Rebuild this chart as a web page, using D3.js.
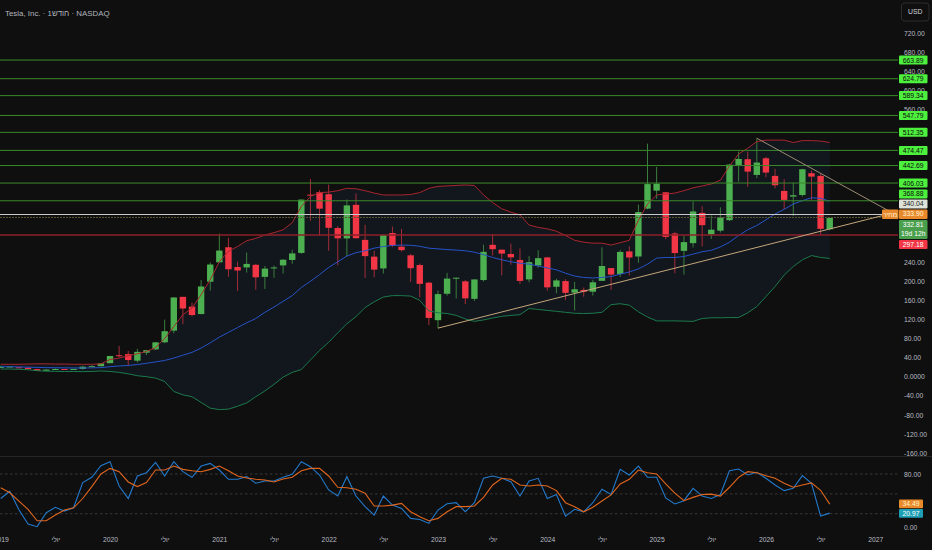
<!DOCTYPE html>
<html>
<head>
<meta charset="utf-8">
<script src="https://cdn.jsdelivr.net/npm/d3@7"></script>
<style>
	html, body { margin: 0; padding: 0; background: #0f0f0f; }
	svg { display: block; font-family: "Liberation Sans", Arial, sans-serif; }
</style>
</head>
<body>
<svg id="chart" width="932" height="550"></svg>
<script>

// monthly candles, Jan 2019 .. Aug 2026
var opens = [20.4,20.4,19.7,18.8,15.9,12.4,15.0,16.1,14.9,16.2,20.9,22.0,
	28.3,44.9,47.4,33.6,50.3,57.3,72.2,96.6,167.4,146.9,131.3,199.2,
	239.8,271.4,230.0,229.1,234.6,209.3,227.0,233.3,244.7,259.5,381.7,386.9,
	382.6,311.7,289.9,360.4,286.9,251.7,227.0,301.3,272.6,254.5,234.1,197.1,
	118.5,173.9,206.2,199.9,163.2,202.6,276.5,266.3,257.3,244.8,204.0,233.1,
	250.1,188.5,200.5,176.2,182.0,178.1,201.0,227.7,215.3,262.7,252.0,352.4,
	390.1,386.7,300.3,263.8,280.0,343.5,298.5,306.2,328.2,444.0,456.0,423.0,
	458.0,421.0,389.5,377.6,381.0,426.6,421.0,309.0];
var highs = [23.2,21.5,20.5,19.8,16.6,15.5,17.5,16.4,16.6,22.7,24.1,28.8,
	43.6,64.6,54.1,58.6,55.1,72.7,119.7,166.7,167.5,155.3,202.6,239.6,
	300.1,291.3,241.2,260.3,236.3,232.1,233.0,246.8,266.3,371.7,414.5,390.9,
	402.7,315.9,371.6,384.3,318.5,264.2,298.3,314.7,310.0,257.5,237.4,198.9,
	180.7,217.7,207.8,202.7,204.5,277.0,299.3,266.5,279.0,268.9,252.8,265.1,
	251.3,205.6,204.5,198.9,187.0,203.2,271.0,228.0,265.9,273.5,361.0,488.5,
	439.7,386.7,303.9,294.9,367.7,357.5,338.0,355.0,446.0,472.0,472.0,500.0,
	461.0,436.0,414.0,407.0,436.0,432.0,425.0,334.0];
var lows = [18.1,19.5,17.9,15.8,12.2,11.8,14.6,14.8,14.6,15.1,20.5,21.5,
	28.1,40.8,23.4,29.8,45.5,56.0,70.1,90.9,110.0,126.4,131.0,180.4,
	239.1,209.5,179.8,218.2,182.3,183.9,207.3,216.3,236.8,257.7,326.8,295.4,
	264.0,233.3,252.0,290.0,206.9,208.7,216.2,271.8,262.5,198.6,166.2,108.2,
	101.8,169.9,163.9,152.4,158.8,199.4,254.1,212.4,234.6,194.1,197.9,228.2,
	180.1,175.0,160.5,138.8,167.4,170.0,200.6,182.0,209.1,212.1,238.9,351.0,
	373.0,288.4,217.0,214.3,271.0,273.2,288.8,302.2,326.0,409.0,398.0,416.0,
	418.0,395.0,351.0,337.0,378.0,370.0,297.18,307.0];
var closes = [20.5,21.3,18.7,15.9,12.3,14.9,16.1,15.0,16.1,21.0,22.0,27.9,
	43.4,44.5,34.9,52.1,55.7,72.0,95.4,166.1,143.0,129.3,189.2,235.2,
	264.5,225.2,222.6,236.5,208.4,226.6,229.1,245.2,258.5,371.3,381.6,352.3,
	312.2,290.1,359.2,290.3,252.8,224.5,297.1,275.6,265.3,227.5,194.7,123.2,
	173.2,205.7,207.5,164.3,203.9,261.8,267.4,258.1,250.2,200.8,240.1,248.5,
	187.3,201.9,175.8,183.3,178.1,197.9,232.1,214.1,261.6,249.9,345.2,403.8,
	404.6,293.0,259.2,282.2,346.5,317.7,308.3,333.9,444.7,456.6,430.0,449.0,
	428.0,401.4,370.7,380.5,435.0,419.5,310.0,332.81];

// bollinger bands
var bandUpper = [26,26,26,26.5,27,27,26.5,26.5,26,26,26,27,
	36,39,44,48,53,61,80,105,130,144,172,203,
	241,263,273,285,290,297,302,308,323,357,378,386,
	387,390,395,394,390,385,381,381,381,382,386,395,
	399,400,401,402,401,381,365,352,345,339,318,313,
	310,305,296,286,282,280,280,276,281,286,328,362,
	381,383,385,390,396,400,404,412,442,467,479,493,
	496,496,496,491,495,495,494,491];
var bandBasis = [21,21,20.5,20,19.5,19,18.8,18.5,18.3,18.3,18.5,19,
	21,22.5,23.5,25.5,28,31,34,39,45,51,60,71,
	83,93,103,113,122,135,146,158,170,187,200,214,
	229,241,253,260,264,269.5,273,275,276,275.5,273.5,269.5,
	268,266.5,265.5,264,261,256,250,245,241,238,236,232,
	228,224,217,211,208,207,208,210,215,219.5,226,236,
	248.6,250,250,252,257,262,265,272,282,296,308,317,
	329,341,351,362,369,375,374,368];
var bandLower = [16,16,15.5,14.5,12.5,11.5,11.2,10.8,10.8,10.6,11,12,
	11,9,6,2,0,-3,-10,-31,-38,-42,-54,-66,
	-69,-68,-62,-55,-42,-30,-16,-1,9,15,35,55,
	72,92,111,126,145,157,167,170,170,169,160,138,
	134,132.5,128.5,121,116,119,123,126.5,128.5,130,143,141,
	139,137,135,133,132.5,133,135,151,153,150,136,125,
	117,117,117,116.5,116,122,123.5,123.5,124,124,134,147,
	168,189,213,231,245,254,250,248];

// oscillator pane (%K blue, %D orange)
var stochK = [43,54,26,4.5,0.5,21.6,29.7,24,29,67,75,92.6,
	98.6,61.9,43,77,82,97.6,77,98.6,83.5,75,92,96,
	86,72,72,76,66,69.5,69.5,75,79.5,98.6,91,78.5,
	55.9,46.7,76,46.7,30.7,18,46.7,33,28,13,11.4,5.4,
	25.6,35,36.7,23,36.7,73.5,77,73.5,68.5,46.7,69.5,73.5,
	43,49,16.5,26.7,23,36.7,56.9,49,87,78.5,92,75,
	75,44,34.7,39.7,58.4,46.7,43,49,85,87.5,78.5,82.5,
	73.5,63.5,54.9,58.4,77.5,66,16.5,20.97];
var stochD = [59.3,51.7,39,26.6,9.4,9.4,18,25.6,29,43,61,80,
	88.5,83.5,68,61,67,86,86,92,87,85,83.5,87,
	92,85,77,74,72,71,68,72.5,75,85,88.5,88.5,
	77,60,59.3,57,51,31.7,31.7,33,35.7,23,15.5,9.4,
	13,23,30.7,30.7,31.7,44.7,63.5,73.5,72,63.5,62,63.5,
	62,54.9,36.7,30.7,23,29.7,39.3,48.4,65,72,86,82,
	80,65,51,39.7,44.7,49,49.6,46.7,60,75,83.5,82,
	77.5,73.5,66,60,63.5,66.5,55.4,34.49];

// drawings
var levels = [663.89, 624.79, 589.34, 547.79, 512.35, 474.47, 442.69, 406.03, 368.88];
var pivotLevel = 340.04;
var closeMark = 333.90;
var lastPrice = 332.81;
var stopLevel = 297.18;
var riseLine = [[48, 101.8], [98.6, 346.5]];
var fallLine = [[83, 500], [98.6, 336]];

var priceTicks = d3.range(-160, 721, 40);
var oscTicks = [0, 40, 80];
var oscGuides = [20, 50, 80];
var timeTicks = d3.range(0, 97, 6);
var firstYear = 2019;
var midLabel = "יולי";

var W = 932, plotRight = 898;
var svg = d3.select("#chart");

svg.append("rect").attr("width", W).attr("height", 550).attr("fill", "#0f0f0f");

var x = d3.scaleLinear().domain([0, 96]).range([0.7, 0.7 + 96 * 9.11]);
var y = d3.scaleLinear().domain([-160, 720]).range([453, 33.3]);
var yo = d3.scaleLinear().domain([0, 80]).range([527, 474]);

var defs = svg.append("defs");
defs.append("clipPath").attr("id", "clipMain")
	.append("rect").attr("x", 0).attr("y", 0).attr("width", plotRight).attr("height", 456);
defs.append("clipPath").attr("id", "clipOsc")
	.append("rect").attr("x", 0).attr("y", 458).attr("width", plotRight).attr("height", 72);

var main = svg.append("g").attr("clip-path", "url(#clipMain)");

// band fill
main.append("path")
	.datum(bandUpper)
	.attr("fill", "rgba(70,120,200,0.08)")
	.attr("d", d3.area()
		.x(function(d, i) { return x(i); })
		.y0(function(d, i) { return y(bandLower[i]); })
		.y1(function(d) { return y(d); }));

// candles
var candles = opens.map(function(o, i) {
	return { i: i, o: o, h: highs[i], l: lows[i], c: closes[i] };
});
var cg = main.append("g");
cg.selectAll("line.wick").data(candles).join("line")
	.attr("class", "wick")
	.attr("x1", function(d) { return x(d.i); })
	.attr("x2", function(d) { return x(d.i); })
	.attr("y1", function(d) { return y(d.h); })
	.attr("y2", function(d) { return y(d.l); })
	.attr("stroke", function(d) { return d.c >= d.o ? "#3b7d3e" : "#a32d38"; })
	.attr("stroke-width", 1);
cg.selectAll("rect.body").data(candles).join("rect")
	.attr("class", "body")
	.attr("x", function(d) { return x(d.i) - 3.2; })
	.attr("width", 6.4)
	.attr("y", function(d) { return y(Math.max(d.o, d.c)); })
	.attr("height", function(d) { return Math.max(1, Math.abs(y(d.o) - y(d.c))); })
	.attr("fill", function(d) { return d.c >= d.o ? "#4caf50" : "#f23645"; });

// band lines
function bandLine(arr, color) {
	main.append("path")
		.datum(arr)
		.attr("fill", "none")
		.attr("stroke", color)
		.attr("stroke-width", 1)
		.attr("d", d3.line()
			.x(function(d, i) { return x(i); })
			.y(function(d) { return y(d); }));
}
bandLine(bandUpper, "#a8262f");
bandLine(bandBasis, "#2753c8");
bandLine(bandLower, "#1b7a4c");

// horizontal levels
function hLine(v, color, width, dash) {
	main.append("line")
		.attr("x1", 0).attr("x2", plotRight)
		.attr("y1", y(v)).attr("y2", y(v))
		.attr("stroke", color)
		.attr("stroke-width", width)
		.attr("stroke-dasharray", dash || null);
}
levels.forEach(function(v) { hLine(v, "#3a8a2a", 1); });
hLine(pivotLevel, "#c9c9c9", 1);
hLine(closeMark, "#5a5830", 1, "2,1");
hLine(stopLevel, "#8e1f29", 1.4);

// trend lines
var trend = d3.line()
	.x(function(d) { return x(d[0]); })
	.y(function(d) { return y(d[1]); });
main.append("path").datum(riseLine).attr("d", trend)
	.attr("fill", "none").attr("stroke", "#c4a77c").attr("stroke-width", 1);
main.append("path").datum(fallLine).attr("d", trend)
	.attr("fill", "none").attr("stroke", "#9c8c70").attr("stroke-width", 1);

// stacked price labels
function stackLabels(items, gap) {
	items.sort(function(a, b) { return a.y - b.y; });
	for (var it = 0; it < 80; it++) {
		for (var i = 1; i < items.length; i++) {
			var a = items[i - 1], b = items[i];
			var overlap = (a.y + a.h / 2 + gap) - (b.y - b.h / 2);
			if (overlap > 0) {
				a.y -= overlap / 2;
				b.y += overlap / 2;
			}
		}
	}
	return items;
}

var labels = levels.map(function(v) {
	return { v: v, y: y(v), h: 9, bg: "#4ef03e", fg: "#0c0c0c", lines: [v.toFixed(2)] };
});
labels.push({ v: pivotLevel, y: y(pivotLevel), h: 9, bg: "#dfe2d8", fg: "#1a1a1a", lines: [pivotLevel.toFixed(2)] });
labels.push({ v: closeMark, y: y(closeMark), h: 9.5, bg: "#e8892b", fg: "#fff6dc", lines: [closeMark.toFixed(2)], tag: "מחיר" });
labels.push({ v: lastPrice, y: y(lastPrice), h: 19, bg: "#4a9f4d", fg: "#ffffff", lines: [lastPrice.toFixed(2), "19d 12h"] });
labels.push({ v: stopLevel, y: y(stopLevel), h: 9, bg: "#f23645", fg: "#ffffff", lines: [stopLevel.toFixed(2)] });
stackLabels(labels, 1);

var oscLabels = stackLabels([
	{ y: yo(stochD[stochD.length - 1]), h: 8.8, bg: "#e8892b", fg: "#fff3c8", t: stochD[stochD.length - 1].toFixed(2) },
	{ y: yo(stochK[stochK.length - 1]), h: 8.8, bg: "#1e9fb5", fg: "#ffffff", t: stochK[stochK.length - 1].toFixed(2) }
], 0.8);

// hide scale numbers that sit under a label box
function underLabel(py, list) {
	return list.some(function(l) { return Math.abs(py - l.y) < l.h / 2 - 0.5; });
}

// price scale
var yAxis = svg.append("g")
	.attr("transform", "translate(" + plotRight + ",0)")
	.call(d3.axisRight(y)
		.tickValues(priceTicks.filter(function(v) { return !underLabel(y(v), labels); }))
		.tickSize(0)
		.tickPadding(6)
		.tickFormat(function(v) { return v === 0 ? "0.0000" : v.toFixed(2); }));
yAxis.select(".domain").remove();
yAxis.selectAll("text")
	.attr("fill", "#b8bbc3")
	.style("font-size", "6.8px")
	.style("font-family", "Liberation Sans, Arial, sans-serif");

var lg = svg.append("g").style("font-size", "6.8px");
labels.forEach(function(d) {
	var top = d.y - d.h / 2;
	lg.append("rect")
		.attr("x", 899).attr("y", top).attr("width", 28.5).attr("height", d.h)
		.attr("rx", 1).attr("fill", d.bg);
	d.lines.forEach(function(t, k) {
		lg.append("text")
			.attr("x", 913.2).attr("y", top + 4.6 + k * 9.5)
			.attr("dy", "0.35em")
			.attr("text-anchor", "middle")
			.attr("fill", d.fg)
			.text(t);
	});
	if (d.tag) {
		lg.append("rect")
			.attr("x", 882).attr("y", top).attr("width", 16.5).attr("height", d.h)
			.attr("rx", 1).attr("fill", d.bg);
		lg.append("text")
			.attr("x", 890.2).attr("y", d.y).attr("dy", "0.35em")
			.attr("text-anchor", "middle")
			.attr("fill", d.fg)
			.text(d.tag);
	}
});

// pane separator
svg.append("line")
	.attr("x1", 0).attr("x2", W).attr("y1", 456.5).attr("y2", 456.5)
	.attr("stroke", "#262626").attr("stroke-width", 1);

// oscillator
var osc = svg.append("g").attr("clip-path", "url(#clipOsc)");
oscGuides.forEach(function(v) {
	osc.append("line")
		.attr("x1", 0).attr("x2", plotRight)
		.attr("y1", yo(v)).attr("y2", yo(v))
		.attr("stroke", "#444").attr("stroke-width", 0.8)
		.attr("stroke-dasharray", "2.5,2.5");
});
var oscLine = d3.line()
	.x(function(d, i) { return x(i); })
	.y(function(d) { return yo(d); });
osc.append("path").datum(stochK).attr("d", oscLine)
	.attr("fill", "none").attr("stroke", "#2379cc").attr("stroke-width", 1.1);
osc.append("path").datum(stochD).attr("d", oscLine)
	.attr("fill", "none").attr("stroke", "#e0661e").attr("stroke-width", 1.1);

var oAxis = svg.append("g")
	.attr("transform", "translate(" + plotRight + ",0)")
	.call(d3.axisRight(yo)
		.tickValues(oscTicks.filter(function(v) { return !underLabel(yo(v), oscLabels); }))
		.tickSize(0)
		.tickPadding(6)
		.tickFormat(function(v) { return v.toFixed(2); }));
oAxis.select(".domain").remove();
oAxis.selectAll("text")
	.attr("fill", "#b8bbc3")
	.style("font-size", "6.8px")
	.style("font-family", "Liberation Sans, Arial, sans-serif");

oscLabels.forEach(function(d) {
	lg.append("rect")
		.attr("x", 899).attr("y", d.y - d.h / 2).attr("width", 24).attr("height", d.h)
		.attr("rx", 1).attr("fill", d.bg);
	lg.append("text")
		.attr("x", 911).attr("y", d.y).attr("dy", "0.35em")
		.attr("text-anchor", "middle")
		.attr("fill", d.fg)
		.text(d.t);
});

// time axis
var xAxis = svg.append("g")
	.attr("transform", "translate(0,532)")
	.call(d3.axisBottom(x)
		.tickValues(timeTicks)
		.tickSize(0)
		.tickPadding(5)
		.tickFormat(function(m) { return m % 12 === 0 ? String(firstYear + m / 12) : midLabel; }));
xAxis.select(".domain").remove();
xAxis.selectAll("text")
	.attr("fill", "#b8bbc3")
	.style("font-size", "6.8px")
	.style("font-family", "Liberation Sans, Arial, sans-serif");

// header + currency box
svg.append("text")
	.attr("x", 5).attr("y", 15.5)
	.attr("fill", "#b2b5be")
	.style("font-size", "7.9px")
	.text("Tesla, Inc. · 1חודש · NASDAQ");

svg.append("rect")
	.attr("x", 901.5).attr("y", 3).attr("width", 27.5).attr("height", 18)
	.attr("rx", 3).attr("fill", "#0f0f0f")
	.attr("stroke", "#2c2c2c").attr("stroke-width", 1);
svg.append("text")
	.attr("x", 915.2).attr("y", 12).attr("dy", "0.35em")
	.attr("text-anchor", "middle")
	.attr("fill", "#d6d8de")
	.style("font-size", "6.8px")
	.text("USD");

</script>
</body>
</html>
